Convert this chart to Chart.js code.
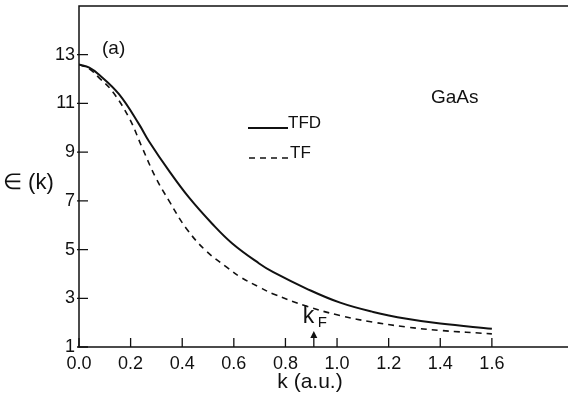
<!DOCTYPE html>
<html>
<head>
<meta charset="utf-8">
<script src="https://cdn.jsdelivr.net/npm/chart.js@4"></script>
<style>
  html, body { margin: 0; padding: 0; background: #fff; }
  #wrap { width: 568px; height: 394px; }
</style>
</head>
<body>
<div id="wrap"><canvas id="chart" width="568" height="394"></canvas></div>
<script>
// valores (GaAs, painel a)
const kTFD = [0.0, 0.04, 0.078, 0.155, 0.233, 0.271, 0.349, 0.426, 0.517, 0.594, 0.698, 0.753, 0.883, 1.012, 1.14, 1.27, 1.4, 1.6];
const tfdValues = [12.6, 12.47, 12.18, 11.38, 10.14, 9.45, 8.23, 7.14, 6.05, 5.25, 4.43, 4.07, 3.39, 2.82, 2.44, 2.16, 1.96, 1.75];
const kTF = [0.0, 0.04, 0.078, 0.129, 0.194, 0.245, 0.297, 0.349, 0.413, 0.491, 0.581, 0.624, 0.698, 0.753, 0.883, 1.012, 1.14, 1.27, 1.4, 1.6];
const tfValues = [12.6, 12.42, 12.05, 11.5, 10.41, 9.18, 7.96, 7.0, 5.91, 4.96, 4.21, 3.88, 3.46, 3.18, 2.67, 2.29, 2.02, 1.82, 1.68, 1.54];
const xTicks = [0.0, 0.2, 0.4, 0.6, 0.8, 1.0, 1.2, 1.4, 1.6];
const yTicks = [1, 3, 5, 7, 9, 11, 13];
const kFermi = 0.91;

const FONT = '"Liberation Sans", Arial, sans-serif';
const INK = '#111';

function toPoints(xs, ys) {
    return xs.map((x, i) => ({ x, y: ys[i] }));
}

// moldura, ticks internos e textos
const framePlugin = {
    id: 'frame',
    afterDraw(chart) {
        const { ctx, chartArea: a, scales: { x, y } } = chart;
        ctx.save();
        ctx.strokeStyle = INK;
        ctx.lineWidth = 1.5;
        ctx.beginPath();
        ctx.moveTo(a.right, a.top);
        ctx.lineTo(a.left, a.top);
        ctx.lineTo(a.left, a.bottom);
        ctx.lineTo(a.right, a.bottom);
        ctx.stroke();

        ctx.lineWidth = 1.3;
        ctx.beginPath();
        yTicks.forEach(v => {
            const py = y.getPixelForValue(v);
            ctx.moveTo(a.left - 2, py);
            ctx.lineTo(a.left + 9, py);
        });
        xTicks.forEach(v => {
            const px = x.getPixelForValue(v);
            ctx.moveTo(px, a.bottom);
            ctx.lineTo(px, a.bottom - 9);
        });
        ctx.stroke();

        // seta do k_F
        const fx = x.getPixelForValue(kFermi);
        ctx.beginPath();
        ctx.moveTo(fx, a.bottom);
        ctx.lineTo(fx, a.bottom - 12);
        ctx.stroke();
        ctx.fillStyle = INK;
        ctx.beginPath();
        ctx.moveTo(fx, a.bottom - 16);
        ctx.lineTo(fx - 3.5, a.bottom - 9);
        ctx.lineTo(fx + 3.5, a.bottom - 9);
        ctx.closePath();
        ctx.fill();

        ctx.textBaseline = 'alphabetic';
        ctx.textAlign = 'left';
        ctx.font = `23px ${FONT}`;
        ctx.fillText('k', fx - 11, a.bottom - 24);
        ctx.font = `15px ${FONT}`;
        ctx.fillText('F', fx + 4, a.bottom - 20);

        ctx.font = `19px ${FONT}`;
        ctx.fillText('(a)', 102, 54);
        ctx.fillText('GaAs', 431, 103);

        // legenda
        ctx.lineWidth = 2;
        ctx.beginPath();
        ctx.moveTo(248, 128);
        ctx.lineTo(288, 128);
        ctx.stroke();
        ctx.lineWidth = 1.6;
        ctx.setLineDash([6, 5]);
        ctx.beginPath();
        ctx.moveTo(249, 158);
        ctx.lineTo(290, 158);
        ctx.stroke();
        ctx.setLineDash([]);
        ctx.font = `17px ${FONT}`;
        ctx.fillText('TFD', 288, 128);
        ctx.fillText('TF', 290, 158);

        // títulos dos eixos
        ctx.font = `22px ${FONT}`;
        ctx.fillText('\u2208 (k)', 3, 189);
        ctx.font = `21px ${FONT}`;
        ctx.textAlign = 'center';
        ctx.fillText('k (a.u.)', 310, 388);
        ctx.restore();
    }
};

new Chart(document.getElementById('chart'), {
    type: 'scatter',
    data: {
        datasets: [
            {
                label: 'TFD',
                data: toPoints(kTFD, tfdValues),
                showLine: true,
                borderColor: INK,
                borderWidth: 2,
                pointRadius: 0,
                tension: 0.4
            },
            {
                label: 'TF',
                data: toPoints(kTF, tfValues),
                showLine: true,
                borderColor: INK,
                borderWidth: 1.6,
                borderDash: [6, 5],
                pointRadius: 0,
                tension: 0.4
            }
        ]
    },
    options: {
        responsive: false,
        animation: false,
        layout: { padding: { top: 6, right: 0, left: 0, bottom: 0 } },
        plugins: {
            legend: { display: false },
            tooltip: { enabled: false }
        },
        scales: {
            x: {
                type: 'linear',
                min: 0,
                max: 1.895,
                afterBuildTicks: s => { s.ticks = xTicks.map(v => ({ value: v })); },
                afterFit: s => { s.height = 47; s.paddingLeft = 0; s.paddingRight = 0; },
                grid: { display: false, drawTicks: false },
                border: { display: false },
                ticks: {
                    padding: 6,
                    color: INK,
                    font: { family: FONT, size: 18 },
                    callback: v => v.toFixed(1)
                }
            },
            y: {
                min: 1,
                max: 15,
                afterBuildTicks: s => { s.ticks = yTicks.map(v => ({ value: v })); },
                afterFit: s => { s.width = 79; s.paddingTop = 0; s.paddingBottom = 0; },
                grid: { display: false, drawTicks: false },
                border: { display: false },
                ticks: {
                    padding: 4,
                    color: INK,
                    font: { family: FONT, size: 18 }
                }
            }
        }
    },
    plugins: [framePlugin]
});
</script>
</body>
</html>
